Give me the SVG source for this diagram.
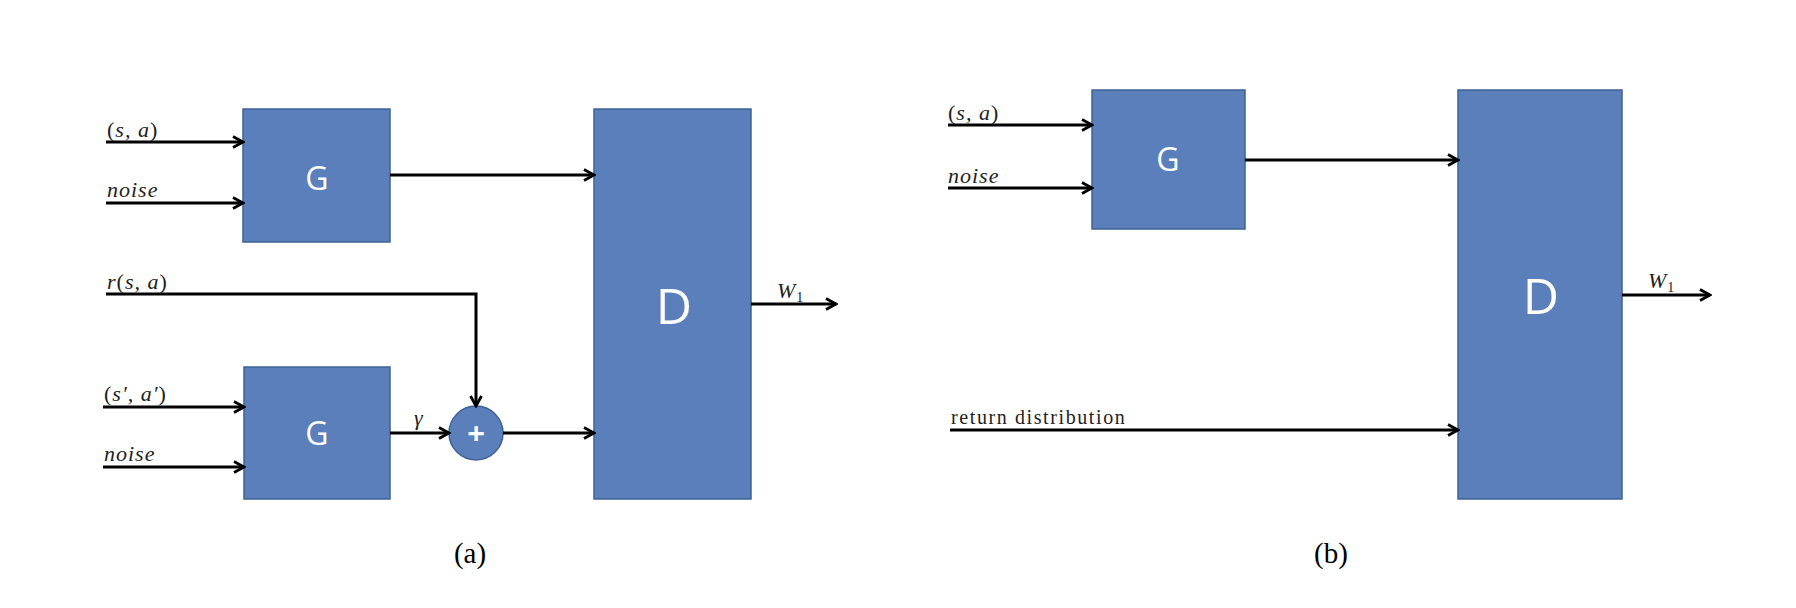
<svg xmlns="http://www.w3.org/2000/svg" width="1796" height="608" viewBox="0 0 1796 608">
<style>
.box{fill:#5a7fba;stroke:#3f6296;stroke-width:1.5}
.blab{font-family:"Open Sans","DejaVu Sans",sans-serif;fill:#ffffff;text-anchor:middle}
.ln{fill:none;stroke:#000;stroke-width:3}
.m{font-family:"Liberation Serif","DejaVu Serif",serif;font-size:22px;font-style:italic;fill:#222;letter-spacing:1px}
.u{font-style:normal}
.cap{font-family:"Liberation Serif","DejaVu Serif",serif;font-size:29px;fill:#000;text-anchor:middle}
</style>
<defs>
<marker id="arr" viewBox="0 0 14 14" refX="12" refY="7" markerWidth="14" markerHeight="14" markerUnits="userSpaceOnUse" orient="auto">
<path d="M2,1.5 L12,7 L2,12.5" fill="none" stroke="#000" stroke-width="2.8"/>
</marker>
</defs>
<rect width="1796" height="608" fill="#fff"/>

<g id="G1"><rect class="box" x="243" y="109" width="147" height="133"/><text class="blab" x="317" y="190" font-size="32">G</text></g>
<g id="G2"><rect class="box" x="244" y="367" width="146" height="132"/><text class="blab" x="317" y="445" font-size="32">G</text></g>
<g id="Plus"><circle cx="476" cy="433" r="27" fill="#5a7fba" stroke="#3f6296" stroke-width="1.5"/><text class="blab" x="476" y="444" font-size="31" font-weight="bold">+</text></g>
<g id="D1"><rect class="box" x="594" y="109" width="157" height="390"/><text class="blab" x="674" y="324" font-size="50">D</text></g>
<g id="G3"><rect class="box" x="1092" y="90" width="153" height="139"/><text class="blab" x="1168" y="171" font-size="32">G</text></g>
<g id="D2"><rect class="box" x="1458" y="90" width="164" height="409"/><text class="blab" x="1541" y="314" font-size="50">D</text></g>

<g id="connectors">
<line class="ln" x1="106" y1="142" x2="243" y2="142" marker-end="url(#arr)"/>
<line class="ln" x1="106" y1="203" x2="243" y2="203" marker-end="url(#arr)"/>
<line class="ln" x1="390" y1="175" x2="594" y2="175" marker-end="url(#arr)"/>
<polyline class="ln" points="106,294 476,294 476,406" marker-end="url(#arr)"/>
<line class="ln" x1="103" y1="407" x2="244" y2="407" marker-end="url(#arr)"/>
<line class="ln" x1="103" y1="467" x2="244" y2="467" marker-end="url(#arr)"/>
<line class="ln" x1="390" y1="433" x2="449" y2="433" marker-end="url(#arr)"/>
<line class="ln" x1="503" y1="433" x2="594" y2="433" marker-end="url(#arr)"/>
<line class="ln" x1="751" y1="304" x2="836" y2="304" marker-end="url(#arr)"/>

<line class="ln" x1="948" y1="125" x2="1092" y2="125" marker-end="url(#arr)"/>
<line class="ln" x1="948" y1="188" x2="1092" y2="188" marker-end="url(#arr)"/>
<line class="ln" x1="1245" y1="160" x2="1458" y2="160" marker-end="url(#arr)"/>
<line class="ln" x1="950" y1="430" x2="1458" y2="430" marker-end="url(#arr)"/>
<line class="ln" x1="1622" y1="295" x2="1710" y2="295" marker-end="url(#arr)"/>
</g>

<g id="labels">
<text class="m" x="107" y="137"><tspan class="u">(</tspan>s, a<tspan class="u">)</tspan></text>
<text class="m" x="107" y="197">noise</text>
<text class="m" x="107" y="289">r<tspan class="u">(</tspan>s, a<tspan class="u">)</tspan></text>
<text class="m" x="104" y="401"><tspan class="u">(</tspan>s′, a′<tspan class="u">)</tspan></text>
<text class="m" x="104" y="461">noise</text>
<text class="m" x="414" y="425">γ</text>
<text class="m" x="777" y="298">W<tspan class="u" font-size="14" dy="4">1</tspan></text>

<text class="m" x="948" y="120"><tspan class="u">(</tspan>s, a<tspan class="u">)</tspan></text>
<text class="m" x="948" y="183">noise</text>
<text class="m u" x="951" y="424" style="font-size:20px;letter-spacing:1.6px">return distribution</text>
<text class="m" x="1648" y="288">W<tspan class="u" font-size="14" dy="4">1</tspan></text>

<text class="cap" x="470" y="563">(a)</text>
<text class="cap" x="1331" y="563">(b)</text>
</g>
</svg>
